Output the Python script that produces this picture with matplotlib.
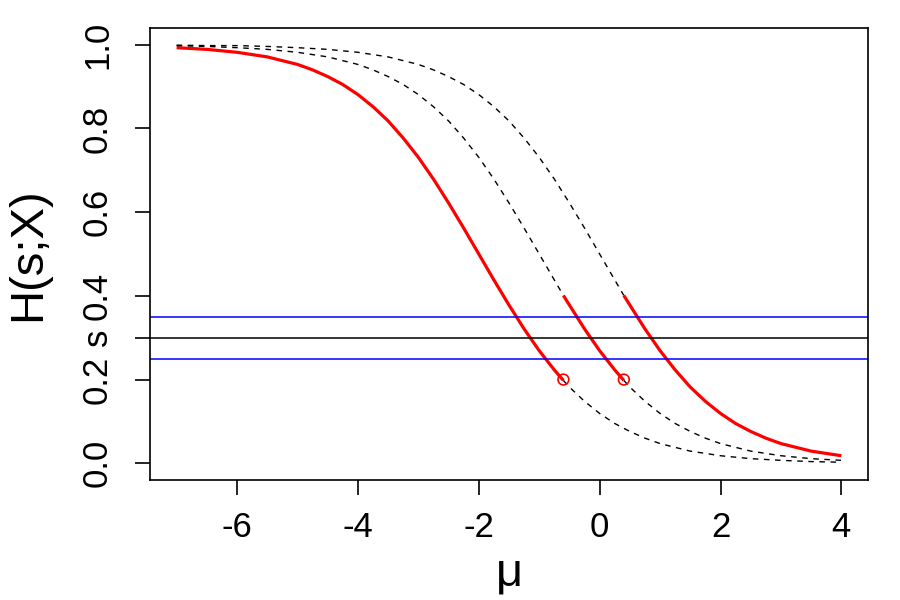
import matplotlib
matplotlib.use("Agg")
import matplotlib.pyplot as plt

plt.rcParams['font.family'] = ['Liberation Sans', 'DejaVu Sans']

# curve 1 (centre near -2): solid red part, then dashed
mu1_red = [-7, -6.5, -6, -5.5, -5, -4.75, -4.5, -4.25, -4, -3.75, -3.5, -3.25, -3,
           -2.75, -2.5, -2.25, -2, -1.75, -1.5, -1.25, -1, -0.75, -0.6]
h1_red = [0.993, 0.989, 0.982, 0.971, 0.953, 0.940, 0.924, 0.905, 0.881, 0.852, 0.818, 0.777, 0.731,
          0.679, 0.622, 0.562, 0.500, 0.438, 0.378, 0.321, 0.269, 0.223, 0.198]
mu1_dash = [-0.6, -0.5, -0.25, 0, 0.25, 0.5, 0.75, 1, 1.5, 2, 2.5, 3, 3.5, 4]
h1_dash = [0.198, 0.182, 0.148, 0.119, 0.095, 0.076, 0.060, 0.047, 0.029, 0.018, 0.011, 0.007, 0.004, 0.0025]

# curve 2 (centre near -1): dashed, red piece, dashed
mu2_dash_a = [-7, -6.5, -6, -5.5, -5, -4.5, -4, -3.75, -3.5, -3.25, -3, -2.75, -2.5,
              -2.25, -2, -1.75, -1.5, -1.25, -1, -0.75, -0.6]
h2_dash_a = [0.998, 0.996, 0.993, 0.989, 0.982, 0.971, 0.953, 0.940, 0.924, 0.905, 0.881, 0.852, 0.818,
             0.777, 0.731, 0.679, 0.622, 0.562, 0.500, 0.438, 0.401]
mu2_red = [-0.6, -0.5, -0.25, 0, 0.25, 0.4]
h2_red = [0.401, 0.378, 0.321, 0.269, 0.223, 0.198]
mu2_dash_b = [0.4, 0.5, 0.75, 1, 1.25, 1.5, 1.75, 2, 2.5, 3, 3.5, 4]
h2_dash_b = [0.198, 0.182, 0.148, 0.119, 0.095, 0.076, 0.060, 0.047, 0.029, 0.018, 0.011, 0.007]

# curve 3 (centre near 0): dashed, then red
mu3_dash = [-7, -6.5, -6, -5.5, -5, -4.5, -4, -3.5, -3, -2.75, -2.5, -2.25, -2, -1.75,
            -1.5, -1.25, -1, -0.75, -0.5, -0.25, 0, 0.25, 0.4]
h3_dash = [0.999, 0.998, 0.998, 0.996, 0.993, 0.989, 0.982, 0.971, 0.953, 0.940, 0.924, 0.905, 0.881, 0.852,
           0.818, 0.777, 0.731, 0.679, 0.622, 0.562, 0.500, 0.438, 0.401]
mu3_red = [0.4, 0.5, 0.75, 1, 1.25, 1.5, 1.75, 2, 2.25, 2.5, 2.75, 3, 3.5, 4]
h3_red = [0.401, 0.378, 0.321, 0.269, 0.223, 0.182, 0.148, 0.119, 0.095, 0.076, 0.060, 0.047, 0.029, 0.018]

# stopping points
pts_mu = [-0.6, 0.4]
pts_h = [0.2, 0.2]

s_level = 0.3
band = [0.25, 0.35]

yticks = [0.0, 0.2, 0.3, 0.4, 0.6, 0.8, 1.0]
yticklabels = ["0.0", "0.2", "s", "0.4", "0.6", "0.8", "1.0"]
xticks = [-6, -4, -2, 0, 2, 4]

fig = plt.figure(figsize=(9, 6), dpi=100)
ax = fig.add_axes([0.1667, 0.2, 0.7977, 0.7533])

dash = dict(color="black", lw=1.0, linestyle=(0, (4, 4)))
red = dict(color="red", lw=2.3, solid_capstyle="butt")

ax.plot(mu1_red, h1_red, **red)
ax.plot(mu1_dash, h1_dash, **dash)
ax.plot(mu2_dash_a, h2_dash_a, **dash)
ax.plot(mu2_red, h2_red, **red)
ax.plot(mu2_dash_b, h2_dash_b, **dash)
ax.plot(mu3_dash, h3_dash, **dash)
ax.plot(mu3_red, h3_red, **red)

ax.axhline(s_level, color="black", lw=1.1)
for b in band:
    ax.axhline(b, color="blue", lw=1.1)

ax.scatter(pts_mu, pts_h, s=60, facecolors="none", edgecolors="red", linewidths=1.2, zorder=5)

ax.set_xlim(-7.44, 4.44)
ax.set_ylim(-0.04, 1.04)
ax.set_xticks(xticks)
ax.set_xticklabels([str(x) for x in xticks])
ax.set_yticks(yticks)
ax.set_yticklabels(yticklabels, rotation=90, va="center")
ax.tick_params(axis="both", labelsize=25, length=11, width=1.2)
ax.tick_params(axis="x", pad=11)
ax.tick_params(axis="y", pad=15)
for sp in ax.spines.values():
    sp.set_linewidth(1.2)

ax.set_xlabel("μ", fontsize=34, labelpad=6)
ax.set_ylabel("H(s;X)", fontsize=34, labelpad=22)

fig.savefig("out.png", dpi=100)
